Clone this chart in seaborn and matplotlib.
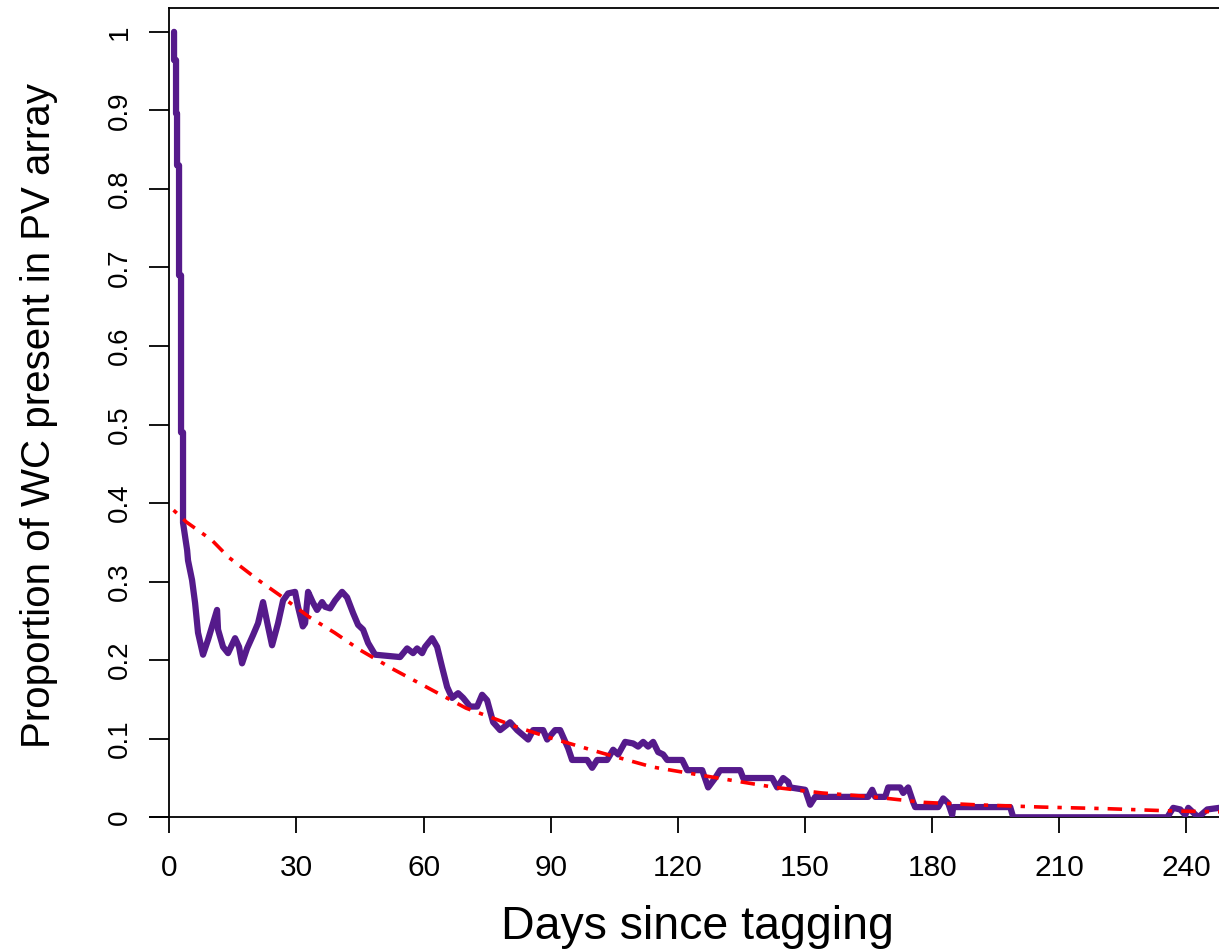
import matplotlib
matplotlib.use("Agg")
import matplotlib.pyplot as plt
import seaborn as sns
import numpy as np
import pandas as pd

# purple series: proportion of tagged WC still detected in the PV array
days = [1.11, 1.11, 1.58, 1.58, 1.82, 1.82, 2.29, 2.29, 2.76, 2.76, 3.23, 3.23,
        4.2, 4.41, 5.36, 6.07, 6.77, 7.95, 9.13, 11.26, 11.49, 12.67, 13.85,
        15.51, 16.45, 17.16, 18.34, 19.75, 20.93, 22.11, 23.29, 24.24, 25.65,
        26.84, 28.02, 29.67, 30.37, 31.5, 32.03, 32.74, 33.92, 34.86, 36.04,
        36.75, 37.93, 39.11, 40.76, 41.94, 43.36, 44.54, 45.72, 46.9, 48.55,
        54.45, 56.11, 57.52, 58.47, 59.65, 60.36, 62.01, 63.19, 64.37, 65.55,
        66.73, 68.15, 69.33, 70.98, 72.63, 73.81, 74.99, 76.41, 78.06, 80.42,
        82.07, 84.67, 85.85, 88.21, 89.16, 91.04, 92.22, 94.11, 95.05, 98.59,
        99.77, 100.95, 103.31, 104.73, 105.91, 107.56, 109.45, 110.63, 111.81,
        112.99, 114.17, 115.35, 116.53, 117.48, 121.02, 122.2, 125.74, 127.15,
        128.81, 129.99, 134.71, 135.42, 142.26, 143.44, 144.86, 146.04, 146.51,
        150.05, 151.23, 152.41, 164.92, 165.86, 166.57, 168.93, 169.64, 172.47,
        173.18, 174.36, 175.54, 176.01, 181.44, 182.62, 183.8, 184.74, 184.98,
        198.43, 199.14, 235.49, 236.9, 238.55, 239.74, 240.45, 242.81, 244.93,
        247.76]
proportion = [1.0, 0.964, 0.964, 0.896, 0.896, 0.83, 0.83, 0.69, 0.69, 0.49, 0.49, 0.375,
              0.34, 0.327, 0.302, 0.273, 0.235, 0.207, 0.226, 0.264, 0.239, 0.217, 0.209,
              0.228, 0.217, 0.196, 0.215, 0.232, 0.247, 0.274, 0.243, 0.219, 0.247,
              0.276, 0.285, 0.287, 0.268, 0.243, 0.247, 0.287, 0.273, 0.264, 0.274,
              0.268, 0.266, 0.276, 0.287, 0.28, 0.26, 0.245, 0.239, 0.222, 0.207,
              0.204, 0.215, 0.209, 0.215, 0.209, 0.217, 0.228, 0.217, 0.191, 0.166,
              0.152, 0.158, 0.152, 0.141, 0.141, 0.156, 0.149, 0.121, 0.111, 0.121,
              0.111, 0.099, 0.111, 0.111, 0.099, 0.111, 0.111, 0.088, 0.073, 0.073,
              0.063, 0.073, 0.073, 0.086, 0.08, 0.096, 0.094, 0.09, 0.096,
              0.09, 0.096, 0.083, 0.08, 0.073, 0.073, 0.06, 0.06, 0.038,
              0.05, 0.06, 0.06, 0.05, 0.05, 0.038, 0.05, 0.045, 0.038,
              0.035, 0.016, 0.026, 0.026, 0.035, 0.026, 0.026, 0.038, 0.038,
              0.031, 0.038, 0.019, 0.013, 0.013, 0.024, 0.018, 0.003, 0.013,
              0.013, 0.0, 0.0, 0.012, 0.01, 0.003, 0.012, 0.0, 0.01,
              0.012]

# red dot-dash fitted decay curve
fit_days = [1, 4, 10, 14, 21, 26, 33, 39, 45, 53, 62, 70, 82, 90, 102, 114,
            125, 135, 143, 154, 166, 178, 190, 206, 221, 237, 248]
fit_vals = [0.391, 0.376, 0.353, 0.331, 0.302, 0.283, 0.255, 0.235, 0.213,
            0.188, 0.162, 0.139, 0.115, 0.101, 0.082, 0.064, 0.054, 0.045,
            0.038, 0.031, 0.026, 0.019, 0.016, 0.013, 0.011, 0.008, 0.007]

x_ticks = [0, 30, 60, 90, 120, 150, 180, 210, 240]
y_ticks = [0, 0.1, 0.2, 0.3, 0.4, 0.5, 0.6, 0.7, 0.8, 0.9, 1.0]
y_tick_labels = ["0", "0.1", "0.2", "0.3", "0.4", "0.5", "0.6", "0.7", "0.8", "0.9", "1"]

sns.set_theme(style="white")
plt.rcParams["font.family"] = ["Liberation Sans", "DejaVu Sans"]

fig = plt.figure(figsize=(12.19, 9.52), dpi=100)
ax = fig.add_axes([0.1231, 0.1415, 0.8769, 0.8498])

obs = pd.DataFrame({"day": days, "prop": proportion})
fit = pd.DataFrame({"day": fit_days, "prop": fit_vals})

sns.lineplot(data=obs, x="day", y="prop", estimator=None, sort=False,
             color="#551A8B", linewidth=4.5, ax=ax,
             solid_capstyle="round", solid_joinstyle="round", zorder=3)
sns.lineplot(data=fit, x="day", y="prop", estimator=None, sort=False,
             color="red", linewidth=2.6, ax=ax, zorder=4)
ax.lines[-1].set_dashes([1.2, 2.5, 4, 2.5])

ax.set_xlim(-4.55, 247.7)
ax.set_ylim(0, 1.03)

# R-ish frame: y axis at x=0, box top, no right side (cropped)
for s in ax.spines.values():
    s.set_color("black")
    s.set_linewidth(1.3)
ax.spines["left"].set_position(("data", 0))
ax.spines["right"].set_visible(False)
ax.spines["top"].set_bounds(0, 247.7)

ax.set_xticks(x_ticks)
ax.set_xticklabels([str(t) for t in x_ticks])
ax.set_yticks(y_ticks)
ax.set_yticklabels(y_tick_labels, rotation=90, va="center")

ax.tick_params(axis="x", bottom=True, length=11.5, width=1.3, pad=15,
               labelsize=21.5, colors="black")
ax.tick_params(axis="y", left=True, length=14.4, width=1.3, pad=12,
               labelsize=20, colors="black")

ax.set_xlabel("Days since tagging", fontsize=33.5, color="black")
ax.set_ylabel("Proportion of WC present in PV array", fontsize=29, color="black")
ax.xaxis.set_label_coords(0.5117, -0.108)
ax.yaxis.set_label_coords(-0.086, 0.497)

fig.savefig("out.png", dpi=100)
